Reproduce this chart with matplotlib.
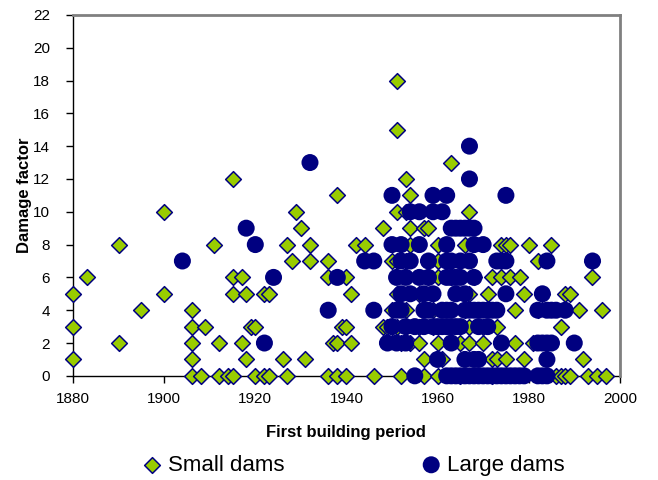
import matplotlib
matplotlib.use("Agg")
import matplotlib.pyplot as plt
import numpy as np

plt.rcParams['font.family'] = ['Liberation Sans', 'DejaVu Sans']

# small dams: (first building year, damage factor)
small_year = [1880, 1880, 1880, 1883, 1890, 1890, 1895, 1900, 1900,
              1906, 1906, 1906, 1906, 1906, 1908, 1909, 1911, 1912, 1912,
              1914, 1915, 1915, 1915, 1915, 1917, 1917, 1918, 1918, 1919,
              1920, 1920, 1922, 1922, 1923, 1923, 1926, 1927, 1927, 1928,
              1929, 1930, 1931, 1932, 1932, 1936, 1936, 1936, 1937, 1938,
              1938, 1938, 1939, 1940, 1940, 1940, 1941, 1941, 1942, 1944,
              1946, 1948, 1948, 1949, 1950, 1950, 1950, 1951, 1951, 1951,
              1951, 1951, 1951, 1952, 1952, 1953, 1953, 1953, 1953, 1953,
              1954, 1954, 1954, 1954, 1956, 1956, 1956, 1957, 1957, 1957,
              1958, 1958, 1958, 1959, 1959, 1960, 1960, 1960, 1960, 1960,
              1961, 1963, 1963, 1965, 1965, 1966, 1966, 1967, 1967, 1967,
              1967, 1968, 1970, 1970, 1971, 1972, 1972, 1972, 1973, 1973,
              1974, 1974, 1975, 1975, 1976, 1976, 1977, 1977, 1978, 1979,
              1979, 1980, 1981, 1982, 1982, 1983, 1985, 1986, 1987, 1987,
              1988, 1988, 1989, 1989, 1991, 1992, 1993, 1994, 1994, 1995,
              1996, 1997]
small_damage = [5, 3, 1, 6, 8, 2, 4, 10, 5,
                4, 3, 2, 1, 0, 0, 3, 8, 2, 0,
                0, 12, 6, 5, 0, 6, 2, 5, 1, 3,
                3, 0, 5, 0, 5, 0, 1, 8, 0, 7,
                10, 9, 1, 8, 7, 7, 6, 0, 2, 11,
                2, 0, 3, 6, 3, 0, 5, 2, 8, 8,
                0, 9, 3, 3, 7, 4, 3, 18, 15, 10,
                7, 5, 3, 2, 0, 12, 10, 7, 4, 3,
                11, 9, 8, 2, 5, 3, 2, 9, 1, 0,
                9, 7, 6, 4, 3, 8, 7, 6, 2, 0,
                1, 13, 6, 2, 0, 8, 4, 10, 5, 3,
                2, 6, 3, 2, 5, 6, 1, 0, 3, 1,
                6, 8, 8, 1, 8, 6, 4, 2, 6, 5,
                1, 8, 2, 7, 4, 5, 8, 0, 3, 0,
                5, 0, 5, 0, 4, 1, 0, 6, 7, 0,
                4, 0]

# large dams
large_year = [1904, 1918, 1920, 1922, 1924, 1932, 1936, 1938, 1944, 1946,
              1946, 1949, 1950, 1950, 1950, 1951, 1951, 1951, 1952, 1952,
              1952, 1952, 1953, 1953, 1953, 1954, 1954, 1954, 1955, 1955,
              1956, 1956, 1956, 1957, 1957, 1957, 1958, 1958, 1958, 1959,
              1959, 1959, 1959, 1960, 1960, 1961, 1961, 1961, 1962, 1962,
              1962, 1962, 1962, 1962, 1962, 1963, 1963, 1963, 1963, 1963,
              1963, 1963, 1964, 1964, 1964, 1964, 1964, 1965, 1965, 1965,
              1965, 1965, 1966, 1966, 1966, 1966, 1966, 1967, 1967, 1967,
              1967, 1967, 1967, 1968, 1968, 1968, 1968, 1968, 1968, 1969,
              1969, 1969, 1969, 1970, 1970, 1970, 1971, 1971, 1971, 1972,
              1972, 1973, 1973, 1973, 1974, 1974, 1974, 1975, 1975, 1975,
              1975, 1976, 1977, 1978, 1979, 1982, 1982, 1982, 1983, 1983,
              1983, 1984, 1984, 1984, 1984, 1984, 1985, 1985, 1986, 1988,
              1990, 1994]
large_damage = [7, 9, 8, 2, 6, 13, 4, 6, 7, 7,
                4, 2, 11, 8, 3, 6, 4, 2, 8, 7,
                5, 4, 6, 3, 2, 10, 7, 5, 3, 0,
                10, 8, 6, 5, 4, 3, 7, 6, 4, 11,
                10, 5, 3, 3, 1, 10, 4, 3, 11, 8,
                7, 6, 4, 3, 0, 9, 7, 6, 4, 3,
                2, 0, 9, 6, 5, 3, 0, 9, 7, 6,
                3, 0, 9, 5, 4, 1, 0, 14, 12, 9,
                7, 4, 0, 9, 8, 6, 4, 1, 0, 4,
                3, 1, 0, 8, 4, 0, 4, 3, 0, 4,
                0, 7, 4, 0, 7, 2, 0, 11, 7, 5,
                0, 0, 0, 0, 0, 4, 2, 0, 5, 2,
                0, 7, 4, 2, 1, 0, 4, 2, 4, 4,
                2, 7]

fig = plt.figure(figsize=(6.58, 4.8), dpi=100)
ax = fig.add_axes([0.111, 0.217, 0.831, 0.752])

ax.scatter(small_year, small_damage, marker='D', s=64, facecolor='#99CC00',
           edgecolor='#000080', linewidth=1.1, clip_on=False, zorder=3,
           label='Small dams')
ax.scatter(large_year, large_damage, marker='o', s=150, facecolor='#000080',
           edgecolor='none', clip_on=False, zorder=4, label='Large dams')

ax.set_xlim(1880, 2000)
ax.set_ylim(0, 22)
ax.set_xticks(np.arange(1880, 2001, 20))
ax.set_yticks(np.arange(0, 23, 2))
ax.tick_params(direction='out', length=5, width=1, labelsize=11, colors='black')
ax.tick_params(axis='x', pad=6.5)
ax.tick_params(axis='y', pad=11.5)

for s in ['left', 'bottom']:
    ax.spines[s].set_color('black')
    ax.spines[s].set_linewidth(1)
    ax.spines[s].set_zorder(1)
for s in ['top', 'right']:
    ax.spines[s].set_color('#808080')
    ax.spines[s].set_linewidth(2)

ax.set_xlabel('First building period', fontsize=12, fontweight='bold', labelpad=14)
ax.set_ylabel('Damage factor', fontsize=12, fontweight='bold', labelpad=0.5)

fig.legend(loc='center', bbox_to_anchor=(0.538, 0.031), ncol=2, frameon=False,
           fontsize=16, handlelength=0.8, handletextpad=0.3, columnspacing=6.2,
           markerscale=1.0)

fig.savefig('out.png', dpi=100)
